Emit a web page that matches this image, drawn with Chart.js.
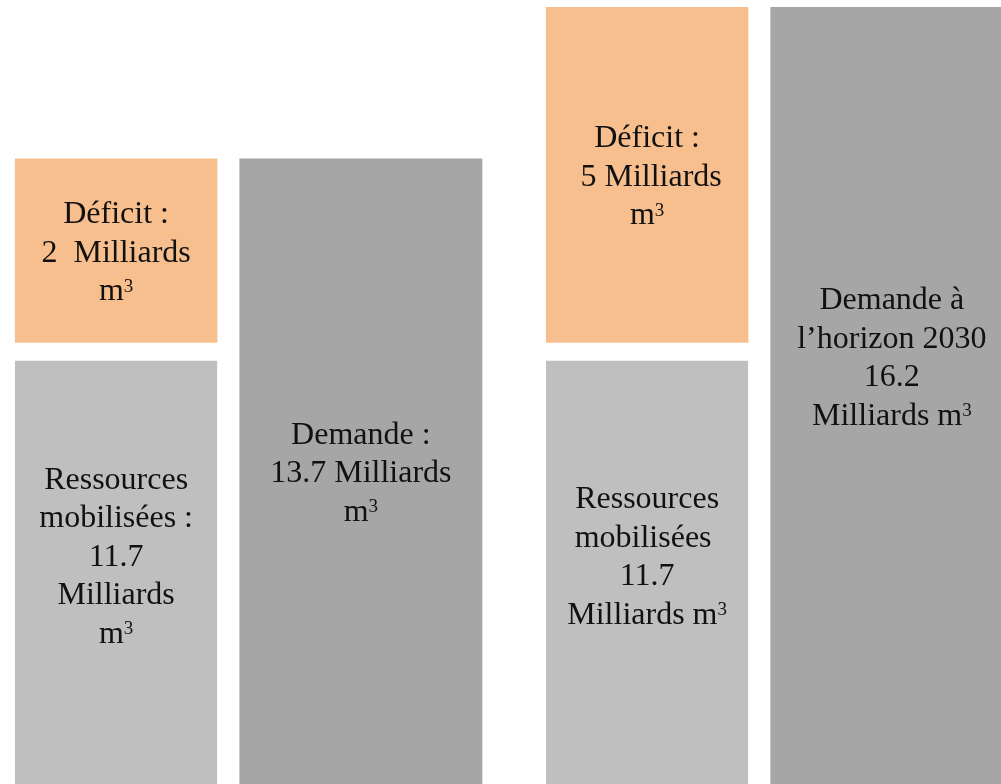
<!DOCTYPE html>
<html lang="fr">
<head>
<meta charset="utf-8">
<title>Ressources et demande en eau</title>
<script src="https://cdn.jsdelivr.net/npm/chart.js@4"></script>
<style>
  html,body{margin:0;padding:0;background:#fff;overflow:hidden;width:1001px;height:784px;}
  #cadre{position:absolute;left:-27px;top:0;width:1062px;height:784px;}
</style>
</head>
<body>
<div id="cadre"><canvas id="graphique" width="1062" height="784"></canvas></div>
<script>
// Données (milliards de m3)
const periodes=["Actuel","Horizon 2030"];
const ressources=[11.7,11.7];
const deficit=[2,5];
const demande=[13.7,16.2];

// Textes dans les barres, {v} = valeur de la barre
const texteRessources=[
  ["Ressources","mobilisées :","{v}","Milliards","m³"],
  ["Ressources","mobilisées ","{v}","Milliards m³"]
];
const texteDeficit=[
  ["Déficit :","{v}  Milliards","m³"],
  ["Déficit :"," {v} Milliards","m³"]
];
const texteDemande=[
  ["Demande :","{v} Milliards","m³"],
  ["Demande à","l’horizon 2030","{v}","Milliards m³"]
];

function remplir(textes,valeurs){
  return textes.map((lignes,i)=>lignes.map(l=>l.replace("{v}",String(valeurs[i]))));
}

const POLICE="32px 'Liberation Serif', 'Times New Roman', serif";
const POLICE_EXP="19px 'Liberation Serif', 'Times New Roman', serif";

// écrit une ligne centrée sur x, le ³ en exposant
function ecrireLigne(ctx,texte,x,y){
  const morceaux=texte.split("³");
  ctx.font=POLICE;
  let larg=0;
  morceaux.forEach(m=>larg+=ctx.measureText(m).width);
  ctx.font=POLICE_EXP;
  const largExp=ctx.measureText("3").width;
  larg+=largExp*(morceaux.length-1);
  let cx=x-larg/2;
  morceaux.forEach((m,k)=>{
    ctx.font=POLICE;
    ctx.fillText(m,cx,y);
    cx+=ctx.measureText(m).width;
    if(k<morceaux.length-1){
      ctx.font=POLICE_EXP;
      ctx.fillText("3",cx,y-8.5);
      cx+=largExp;
    }
  });
}

// Etiquettes multi-lignes centrées dans la partie visible de chaque barre
const etiquettes={
  id:"etiquettes",
  afterDatasetsDraw(chart){
    const ctx=chart.ctx;
    const zone=chart.chartArea;
    ctx.save();
    ctx.fillStyle="#111";
    ctx.textAlign="left";
    ctx.textBaseline="alphabetic";
    chart.data.datasets.forEach((ds,i)=>{
      const meta=chart.getDatasetMeta(i);
      meta.data.forEach((barre,j)=>{
        const lignes=ds.textes[j];
        if(!lignes) return;
        const p=barre.getProps(["x","y","base"],true);
        const haut=Math.max(Math.min(p.y,p.base),zone.top);
        const bas=Math.min(Math.max(p.y,p.base),zone.bottom);
        const centre=(haut+bas)/2+(ds.decalage?ds.decalage[j]:0);
        const pas=38.5;
        lignes.forEach((l,k)=>{
          ecrireLigne(ctx,l,p.x,centre+(k-(lignes.length-1)/2)*pas+11);
        });
      });
    });
    ctx.restore();
  }
};

new Chart(document.getElementById("graphique"),{
  type:"bar",
  data:{
    labels:periodes,
    datasets:[
      {
        label:"Ressources mobilisées",
        data:ressources,
        stack:"offre",
        backgroundColor:"#bfbfbf",
        borderColor:"#ffffff",
        borderWidth:{top:18,right:0,bottom:0,left:0},
        barPercentage:0.8274,
        textes:remplir(texteRessources,ressources),
        decalage:[-8.5,-8.5]
      },
      {
        label:"Déficit",
        data:deficit,
        stack:"offre",
        backgroundColor:"#f8bf8e",
        borderWidth:0,
        barPercentage:0.8274,
        textes:remplir(texteDeficit,deficit)
      },
      {
        label:"Demande",
        data:demande,
        stack:"demande",
        backgroundColor:"#a6a6a6",
        borderWidth:0,
        barPercentage:0.9928,
        textes:remplir(texteDemande,demande),
        decalage:[0,-39.5]
      }
    ]
  },
  options:{
    responsive:false,
    animation:false,
    layout:{padding:{top:7,right:0,bottom:0,left:0}},
    datasets:{bar:{categoryPercentage:0.9218,clip:0}},
    plugins:{legend:{display:false},tooltip:{enabled:false}},
    scales:{
      x:{display:false,stacked:true,offset:true},
      y:{display:false,stacked:true,min:6.91,max:15.344}
    }
  },
  plugins:[etiquettes]
});
</script>
</body>
</html>
